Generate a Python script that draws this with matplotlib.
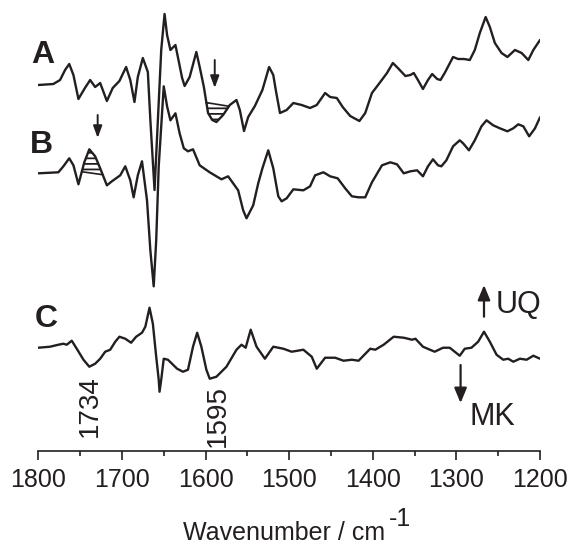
import numpy as np
import matplotlib
matplotlib.use('Agg')
from matplotlib import pyplot as plt

plt.rcParams['font.family'] = ['Liberation Sans', 'DejaVu Sans']
plt.rcParams['hatch.linewidth'] = 1.3

INK = '#231f20'

# spectrum A (wavenumber / cm-1, difference absorbance, arb. units)
wn_a = [1800, 1782, 1774, 1768, 1763, 1758, 1752, 1745, 1738, 1732, 1726, 1718, 1711, 1703,
        1695, 1690, 1685, 1681, 1675, 1669, 1666, 1661, 1657, 1653, 1649, 1646, 1642, 1636,
        1628, 1625, 1619, 1611, 1607, 1602, 1597, 1592, 1587, 1579, 1571, 1563, 1559, 1554,
        1549, 1541, 1532, 1524, 1519, 1516, 1511, 1503, 1495, 1485, 1475, 1467, 1457, 1451,
        1443, 1436, 1427, 1416, 1409, 1401, 1391, 1383, 1376, 1370, 1361, 1355, 1351, 1346,
        1340, 1334, 1329, 1323, 1319, 1314, 1304, 1298, 1291, 1284, 1278, 1272, 1265, 1260,
        1254, 1246, 1239, 1230, 1222, 1214, 1208, 1200]
spec_a = [0.00, 0.01, 0.05, 0.15, 0.21, 0.10, -0.14, -0.04, 0.05, -0.02, 0.02, -0.16, -0.03, 0.04,
          0.18, 0.05, -0.17, 0.08, 0.27, 0.13, -0.35, -1.05, -0.35, 0.35, 0.71, 0.50, 0.35, 0.40,
          0.07, -0.01, 0.08, 0.33, 0.18, -0.02, -0.28, -0.35, -0.37, -0.30, -0.20, -0.15, -0.25, -0.46,
          -0.32, -0.21, -0.05, 0.18, 0.10, -0.05, -0.28, -0.25, -0.18, -0.20, -0.23, -0.20, -0.08, -0.12,
          -0.13, -0.22, -0.31, -0.36, -0.28, -0.08, 0.03, 0.12, 0.22, 0.17, 0.09, 0.10, 0.12, 0.05,
          -0.04, 0.05, 0.11, 0.06, 0.05, 0.12, 0.28, 0.26, 0.26, 0.25, 0.35, 0.52, 0.68, 0.58,
          0.42, 0.32, 0.28, 0.35, 0.32, 0.25, 0.35, 0.45]

# spectrum B
wn_b = [1800, 1776, 1770, 1763, 1758, 1752, 1745, 1739, 1732, 1726, 1718, 1712, 1702, 1696,
        1690, 1686, 1681, 1676, 1670, 1666, 1662, 1659, 1656, 1650, 1646, 1642, 1636, 1631,
        1626, 1621, 1615, 1607, 1595, 1581, 1573, 1567, 1561, 1555, 1551, 1543, 1537, 1532,
        1525, 1519, 1513, 1509, 1503, 1495, 1483, 1475, 1469, 1459, 1451, 1442, 1433, 1425,
        1417, 1409, 1401, 1389, 1379, 1371, 1363, 1355, 1347, 1340, 1334, 1328, 1322, 1318,
        1312, 1304, 1296, 1292, 1285, 1278, 1270, 1264, 1256, 1248, 1239, 1232, 1226, 1220,
        1213, 1206, 1200]
spec_b = [0.00, 0.01, 0.07, 0.15, 0.08, -0.11, 0.11, 0.24, 0.17, 0.05, -0.12, -0.08, -0.02, 0.07,
          -0.07, -0.24, -0.02, 0.12, -0.27, -0.77, -1.13, -0.67, 0.07, 0.87, 0.67, 0.53, 0.60, 0.40,
          0.25, 0.22, 0.24, 0.08, 0.01, -0.06, -0.03, -0.10, -0.17, -0.37, -0.45, -0.32, -0.10, 0.05,
          0.23, 0.05, -0.23, -0.28, -0.25, -0.16, -0.17, -0.13, -0.02, 0.01, -0.03, -0.05, -0.15, -0.23,
          -0.24, -0.24, -0.09, 0.08, 0.11, 0.09, 0.00, 0.02, 0.03, -0.03, 0.07, 0.14, 0.08, 0.07,
          0.13, 0.27, 0.33, 0.30, 0.23, 0.33, 0.47, 0.53, 0.48, 0.45, 0.42, 0.45, 0.49, 0.47,
          0.37, 0.45, 0.56]

# spectrum C
wn_c = [1800, 1786, 1776, 1770, 1766, 1760, 1754, 1746, 1739, 1732, 1726, 1720, 1714, 1708,
        1703, 1696, 1689, 1683, 1676, 1672, 1667, 1663, 1659, 1656, 1655, 1653, 1650, 1645,
        1634, 1627, 1621, 1615, 1610, 1605, 1599, 1595, 1587, 1575, 1563, 1557, 1552, 1546,
        1539, 1529, 1519, 1507, 1497, 1483, 1473, 1467, 1457, 1445, 1435, 1425, 1417, 1403,
        1397, 1387, 1375, 1363, 1353, 1349, 1340, 1326, 1316, 1308, 1302, 1296, 1290, 1282,
        1274, 1267, 1260, 1252, 1244, 1238, 1232, 1224, 1216, 1208, 1200]
spec_c = [0.00, 0.01, 0.03, 0.04, 0.03, 0.07, -0.01, -0.12, -0.19, -0.16, -0.11, -0.04, -0.02, 0.06,
          0.11, 0.09, 0.05, 0.11, 0.15, 0.21, 0.40, 0.24, -0.09, -0.32, -0.44, -0.32, -0.11, -0.12,
          -0.21, -0.24, -0.22, 0.01, 0.15, 0.01, -0.22, -0.31, -0.29, -0.19, -0.02, 0.03, 0.00, 0.18,
          0.01, -0.11, 0.01, -0.01, -0.04, -0.02, -0.09, -0.21, -0.10, -0.10, -0.13, -0.12, -0.13, -0.01,
          -0.02, 0.03, 0.11, 0.10, 0.08, 0.09, 0.01, -0.04, 0.00, 0.00, -0.04, -0.08, -0.01, 0.00,
          0.06, 0.16, 0.06, -0.07, -0.12, -0.11, -0.14, -0.11, -0.12, -0.08, -0.11]

offsets = {'A': 0.0, 'B': -0.883, 'C': -2.627}
xticks = [1800, 1700, 1600, 1500, 1400, 1300, 1200]


def hatch_band(ax, wn, spec, off, w_hi, w_lo, above):
    # hatched band between the trace and a straight chord joining two points on it
    x = np.linspace(w_hi, w_lo, 80)
    xs, ys = np.array(wn[::-1], float), np.array(spec[::-1], float)
    curve = np.interp(x, xs, ys) + off
    c0, c1 = np.interp(w_hi, xs, ys) + off, np.interp(w_lo, xs, ys) + off
    chord = c0 + (c1 - c0) * (x - w_hi) / (w_lo - w_hi)
    where = curve > chord if above else curve < chord
    ax.fill_between(x, curve, chord, where=where, facecolor='none', edgecolor=INK,
                    hatch='---', linewidth=0)
    ax.plot([w_hi, w_lo], [c0, c1], color=INK, lw=1.2)


fig = plt.figure(figsize=(5.7, 5.47), dpi=100)
ax = fig.add_axes([0.0672, 0.176, 0.8802, 0.824])

for wn, spec, key in [(wn_a, spec_a, 'A'), (wn_b, spec_b, 'B'), (wn_c, spec_c, 'C')]:
    ax.plot(wn, np.array(spec) + offsets[key], color=INK, lw=1.7,
            solid_joinstyle='round', solid_capstyle='round')

hatch_band(ax, wn_a, spec_a, offsets['A'], 1599, 1572, above=False)
hatch_band(ax, wn_b, spec_b, offsets['B'], 1748, 1723, above=True)

# trace labels
for key, xpos, ypos in [('A', 1795, 0.22), ('B', 1796, -0.675), ('C', 1791, -2.417)]:
    ax.text(xpos, ypos, key, fontsize=23, fontweight='bold', ha='center', va='baseline', color=INK)

small = dict(arrowstyle='-|>,head_length=0.6,head_width=0.22', color=INK, lw=1.4,
             shrinkA=0, shrinkB=0, mutation_scale=12)
big = dict(small, arrowstyle='-|>,head_length=0.6,head_width=0.25', mutation_scale=15, lw=1.6)
ax.annotate('', xy=(1589, -0.03), xytext=(1589, 0.25), arrowprops=small)
ax.annotate('', xy=(1729, -0.53), xytext=(1729, -0.30), arrowprops=small)
ax.annotate('', xy=(1267, -2.0), xytext=(1267, -2.317), arrowprops=big)
ax.annotate('', xy=(1295, -3.18), xytext=(1295, -2.80), arrowprops=big)
ax.text(1253, -2.283, 'UQ', fontsize=22, ha='left', va='baseline', color=INK)
ax.text(1284, -3.40, 'MK', fontsize=22, ha='left', va='baseline', color=INK)

ax.text(1738, -3.21, '1734', fontsize=20, rotation=90, ha='center', va='center', color=INK)
ax.text(1585, -3.305, '1595', fontsize=20, rotation=90, ha='center', va='center', color=INK)

ax.set_xlim(1800, 1200)
ax.set_ylim(-3.657, 0.85)
ax.set_xticks(xticks)
ax.set_xticks(np.arange(1750, 1200, -100), minor=True)
ax.set_xticklabels([str(t) for t in xticks], fontsize=18, color=INK)
ax.tick_params(axis='x', which='major', direction='out', length=6.5, width=1.2, pad=6, color=INK)
ax.tick_params(axis='x', which='minor', direction='out', length=3.3, width=1.2, color=INK)
ax.set_yticks([])
for side in ['top', 'left', 'right']:
    ax.spines[side].set_visible(False)
ax.spines['bottom'].set_linewidth(1.2)
ax.spines['bottom'].set_color(INK)
ax.patch.set_visible(False)

lab = ax.set_xlabel('Wavenumber / cm', fontsize=18, color=INK, va='baseline')
ax.xaxis.set_label_coords(0.49, -0.197)
ax.annotate('-1', xy=(1, 0), xycoords=lab, xytext=(3, 13), textcoords='offset points',
            fontsize=18, color=INK, ha='left', va='baseline')

fig.savefig('out.png', dpi=100)
